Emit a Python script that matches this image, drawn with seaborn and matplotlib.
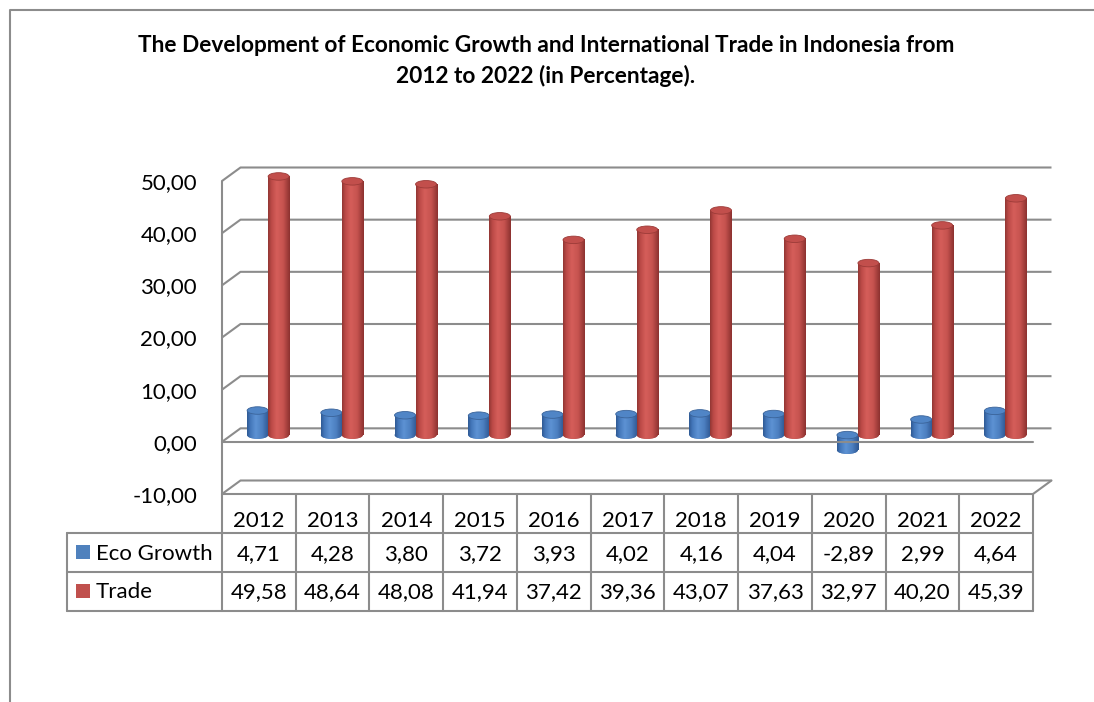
import numpy as np
import pandas as pd
import matplotlib
matplotlib.use("Agg")
import matplotlib.pyplot as plt
import seaborn as sns
from matplotlib.patches import Ellipse, Rectangle
from matplotlib.colors import LinearSegmentedColormap

# ---------------- data ----------------
years = ["2012", "2013", "2014", "2015", "2016", "2017", "2018", "2019", "2020", "2021", "2022"]
eco_growth = [4.71, 4.28, 3.80, 3.72, 3.93, 4.02, 4.16, 4.04, -2.89, 2.99, 4.64]
trade = [49.58, 48.64, 48.08, 41.94, 37.42, 39.36, 43.07, 37.63, 32.97, 40.20, 45.39]
series_names = ["Eco Growth", "Trade"]
y_ticks = [-10, 0, 10, 20, 30, 40, 50]
title_lines = ["The Development of Economic Growth and International Trade in Indonesia from",
               "2012 to 2022 (in Percentage)."]


def fmt(v):
    return f"{v:.2f}".replace(".", ",")


# ---------------- style ----------------
W, H = 1094, 702
sns.set_theme(style="white")
plt.rcParams["font.family"] = ["Lato", "DejaVu Sans"]
plt.rcParams["text.color"] = "black"
plt.rcParams["ytick.color"] = "black"
GRID = "#8c8c8c"
LW = 1.5
FS = 16

fig = plt.figure(figsize=(W / 100, H / 100), dpi=100)
fig.patch.set_facecolor("white")

# overlay axes in pixel coordinates (frame, title, data table)
ov = fig.add_axes([0, 0, 1, 1], zorder=-1)
ov.set_xlim(0, W)
ov.set_ylim(H, 0)
ov.axis("off")

# main plotting axes = front plane of the 3D box
AX_L, AX_R, AX_T, AX_B = 222, 1033, 181, 494
ax = fig.add_axes([AX_L / W, 1 - AX_B / H, (AX_R - AX_L) / W, (AX_B - AX_T) / H])
ax.set_facecolor("none")
ppx = (AX_R - AX_L) / 11.0
ppy = (AX_B - AX_T) / 60.0
DX, DY = 18.5 / ppx, 13.5 / ppy   # depth offset in data units
EH = 7.5 / ppy                    # ellipse height of cylinder caps

df = pd.DataFrame({
    "Year": years * 2,
    "Series": [series_names[0]] * len(years) + [series_names[1]] * len(years),
    "Value": eco_growth + trade,
})
pal = {"Eco Growth": "#4F81BD", "Trade": "#C0504D"}
sns.barplot(data=df, x="Year", y="Value", hue="Series", palette=pal, width=0.57,
            gap=0, saturation=1, legend=False, ax=ax)

cmaps = {
    "Eco Growth": LinearSegmentedColormap.from_list(
        "b", [(0, "#2F5A94"), (0.15, "#4477BA"), (0.4, "#5D92D4"), (0.7, "#4C7FC0"), (1, "#2E5690")]),
    "Trade": LinearSegmentedColormap.from_list(
        "r", [(0, "#923633"), (0.15, "#BC4A47"), (0.4, "#D55E5A"), (0.7, "#C6534F"), (1, "#8C3230")]),
}
caps = {"Eco Growth": ("#5085C6", "#3A6399"), "Trade": ("#C24F4C", "#9C3B38")}
bottoms = {"Eco Growth": "#3F6DA8", "Trade": "#A8423F"}
grad = np.linspace(0, 1, 64)[None, :]

for ci, (name, cont) in enumerate(zip(series_names, ax.containers)):
    z = 3 + ci
    for bar in cont:
        bar.set_x(bar.get_x() + DX / 2)
        bar.set_y(bar.get_y() + DY / 2)
        bar.set_zorder(z)
        bar.set_edgecolor("none")
        bar.set_clip_on(False)
        x0, w = bar.get_x(), bar.get_width()
        y0, h = bar.get_y(), bar.get_height()
        lo, hi = min(y0, y0 + h), max(y0, y0 + h)
        cx = x0 + w / 2
        bot = Ellipse((cx, lo), w, EH, facecolor=bottoms[name], edgecolor="none", zorder=z,
                      clip_on=False)
        ax.add_patch(bot)
        im = ax.imshow(grad, extent=(x0, x0 + w, lo - EH / 2, lo + EH / 2), cmap=cmaps[name],
                       aspect="auto", zorder=z + 0.01, interpolation="bilinear")
        im.set_clip_path(bot)
        im2 = ax.imshow(grad, extent=(x0, x0 + w, lo, hi), cmap=cmaps[name],
                        aspect="auto", zorder=z + 0.02, interpolation="bilinear")
        im2.set_clip_on(False)
        top = Ellipse((cx, hi), w, EH, facecolor=caps[name][0], edgecolor=caps[name][1],
                      lw=0.6, zorder=z + 0.03, clip_on=False)
        ax.add_patch(top)

# back wall gridlines + left wall diagonals
x_lo, x_hi = -0.5, len(years) - 0.5
for y in y_ticks:
    ax.plot([x_lo, x_lo + DX, x_hi + DX], [y, y + DY, y + DY], color=GRID, lw=LW,
            clip_on=False, zorder=1, solid_capstyle="butt")
# front edge of left wall
ax.plot([x_lo, x_lo], [y_ticks[0], y_ticks[-1]], color=GRID, lw=LW, clip_on=False, zorder=1)
# front zero line
ax.plot([x_lo, x_hi], [0, 0], color=GRID, lw=LW, clip_on=False, zorder=10)
# floor right diagonal
ax.plot([x_hi, x_hi + DX], [y_ticks[0], y_ticks[0] + DY], color=GRID, lw=LW, clip_on=False, zorder=1)

ax.set_xlim(x_lo, x_hi)
ax.set_ylim(y_ticks[0], y_ticks[-1])
ax.set_yticks(y_ticks)
ax.set_yticklabels([fmt(v) for v in y_ticks], fontsize=FS)
ax.tick_params(axis="y", length=0, pad=18)
ax.tick_params(axis="x", length=0, labelbottom=False)
ax.set_xlabel("")
ax.set_ylabel("")
for s in ax.spines.values():
    s.set_visible(False)

# ---------------- outer frame ----------------
ov.plot([10, 10, W], [H, 10, 10], color=GRID, lw=LW, solid_capstyle="butt")

# ---------------- title ----------------
TFS = 16.3
ov.text(546, 52, title_lines[0], ha="center", va="baseline", fontsize=TFS, fontweight="bold")
ov.text(546, 83, title_lines[1], ha="center", va="baseline", fontsize=TFS, fontweight="bold")

# ---------------- data table ----------------
T_L = 67
R0, R1, R2, R3 = AX_B, 533, 572, 611
ov.plot([AX_L, AX_R], [R0, R0], color=GRID, lw=LW)
for yy in (R1, R2, R3):
    ov.plot([T_L, AX_R], [yy, yy], color=GRID, lw=LW)
ov.plot([T_L, T_L], [R1, R3], color=GRID, lw=LW)
for i in range(len(years) + 1):
    xx = AX_L + i * ppx
    ov.plot([xx, xx], [R0, R3], color=GRID, lw=LW)

for i, yr in enumerate(years):
    cx = AX_L + (i + 0.5) * ppx
    ov.text(cx, 527, yr, ha="center", va="baseline", fontsize=FS)
    ov.text(cx, 560, fmt(eco_growth[i]), ha="center", va="baseline", fontsize=FS)
    ov.text(cx, 598, fmt(trade[i]), ha="center", va="baseline", fontsize=FS)

for name, ybase, ytop in ((series_names[0], 560, 545), (series_names[1], 598, 584)):
    ov.add_patch(Rectangle((76, ytop), 14, 14, facecolor=pal[name], edgecolor="none"))
    ov.text(96, ybase, name, ha="left", va="baseline", fontsize=FS)

fig.savefig("out.png", dpi=100, facecolor="white")
